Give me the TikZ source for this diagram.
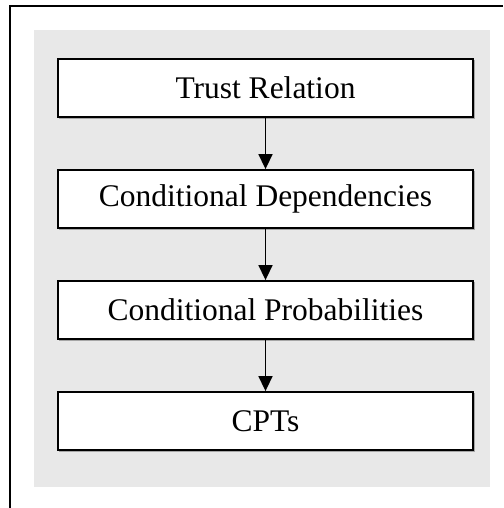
\documentclass[tikz,border=0pt]{standalone}
\usepackage{fontspec}
\setmainfont{Liberation Serif}
\usetikzlibrary{arrows.meta}
\definecolor{panelgray}{HTML}{E8E8E8}
\tikzset{
  stagebox/.style={draw=black, line width=1.8pt, fill=white, minimum width=415pt,
    minimum height=58pt, inner sep=0pt, font=\fontsize{31.5}{36}\selectfont},
  flow/.style={line width=1.5pt, -{Triangle[width=14pt,length=15pt]}},
  frame/.style={line width=2pt}
}
\begin{document}
\begin{tikzpicture}[x=1pt,y=-1pt]
  \useasboundingbox (0,0) rectangle (503,508);
  % open frame: top and left edges
  \draw[frame] (10,508) -- (10,6) -- (503,6);
  % grey panel
  \fill[panelgray] (34,30) rectangle (490,487);
  % soft shadows behind the boxes
  \foreach \yc in {88,199,310,421}
    \fill[gray!70] (58.5,\yc-28) rectangle (475,\yc+30.5);
  % stages
  \node[stagebox] (trust) at (265.5,88) {Trust Relation};
  \node[stagebox] (dep)   at (265.5,199) {Conditional Dependencies};
  \node[stagebox] (prob)  at (265.5,310) {Conditional Probabilities};
  \node[stagebox] (cpt)   at (265.5,421) {CPTs};
  % connectors
  \draw[flow] (trust.south) -- (dep.north);
  \draw[flow] (dep.south) -- (prob.north);
  \draw[flow] (prob.south) -- (cpt.north);
\end{tikzpicture}
\end{document}
